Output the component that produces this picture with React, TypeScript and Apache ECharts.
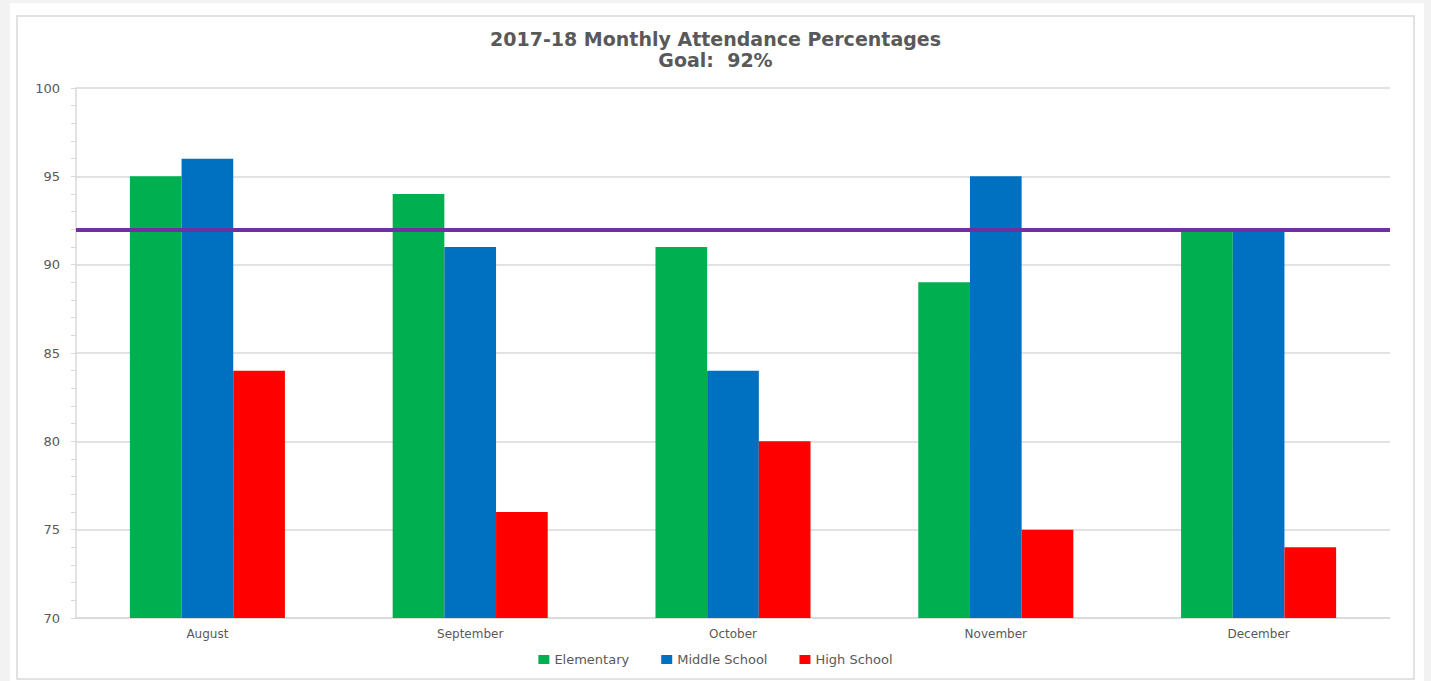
import React, { useEffect, useRef } from "react";
import * as echarts from "echarts";

const months = ["August", "September", "October", "November", "December"];
const elementary = [95, 94, 91, 89, 92];
const middleSchool = [96, 91, 84, 95, 92];
const highSchool = [84, 76, 80, 75, 74];
const goal = 92;
const yTicks = { min: 70, max: 100, interval: 5 };

export default function App() {
  const ref = useRef<HTMLDivElement>(null);
  useEffect(() => {
    if (!ref.current) return;
    const chart = echarts.init(ref.current, null, { renderer: "svg" });
    const font = "DejaVu Sans";
    const textColor = "#595959";
    const barSeries = (name: string, data: number[], color: string) => ({
      name,
      type: "bar",
      data,
      barGap: "0%",
      barCategoryGap: "41%",
      itemStyle: { color },
      emphasis: { disabled: true },
    });
    chart.setOption({
      animation: false,
      backgroundColor: "#f2f2f2",
      textStyle: { fontFamily: font },
      graphic: [
        { type: "rect", z: -10, shape: { x: 10, y: 3, width: 1414, height: 678 }, style: { fill: "#ffffff" } },
        {
          type: "rect",
          z: -9,
          shape: { x: 17, y: 16, width: 1397, height: 663 },
          style: { fill: "#ffffff", stroke: "#d9d9d9", lineWidth: 1.5 },
        },
      ],
      title: {
        text: "2017-18 Monthly Attendance Percentages\nGoal:  92%",
        left: "center",
        top: 23,
        textStyle: { fontFamily: font, fontSize: 19, fontWeight: "bold", color: textColor, lineHeight: 21 },
      },
      legend: {
        bottom: 10,
        left: "center",
        itemWidth: 11,
        itemHeight: 9,
        itemGap: 32,
        icon: "rect",
        textStyle: { fontFamily: font, fontSize: 13, color: textColor },
        data: ["Elementary", "Middle School", "High School"],
      },
      grid: { left: 76, right: 41, top: 88, bottom: 63 },
      xAxis: {
        type: "category",
        data: months,
        axisLine: { lineStyle: { color: "#d9d9d9", width: 1.5 } },
        axisTick: { show: false },
        axisLabel: { color: textColor, fontSize: 12, margin: 10, fontFamily: font },
      },
      yAxis: {
        type: "value",
        min: yTicks.min,
        max: yTicks.max,
        interval: yTicks.interval,
        axisLine: { show: true, lineStyle: { color: "#d9d9d9", width: 1.5 } },
        axisTick: { show: true, inside: false, length: 5, lineStyle: { color: "#d9d9d9" } },
        minorTick: { show: true, splitNumber: 5, length: 5, lineStyle: { color: "#d9d9d9" } },
        splitLine: { show: true, lineStyle: { color: "#d9d9d9", width: 1.5 } },
        axisLabel: { color: textColor, fontSize: 13, margin: 16, fontFamily: font },
      },
      series: [
        {
          ...barSeries("Elementary", elementary, "#00b050"),
          markLine: {
            silent: true,
            symbol: "none",
            label: { show: false },
            lineStyle: { color: "#7030a0", width: 4, type: "solid" },
            data: [{ yAxis: goal }],
          },
        },
        barSeries("Middle School", middleSchool, "#0070c0"),
        barSeries("High School", highSchool, "#ff0000"),
      ],
    });
    return () => chart.dispose();
  }, []);
  return <div ref={ref} style={{ position: "absolute", left: 0, top: 0, width: 1431, height: 681 }} />;
}
